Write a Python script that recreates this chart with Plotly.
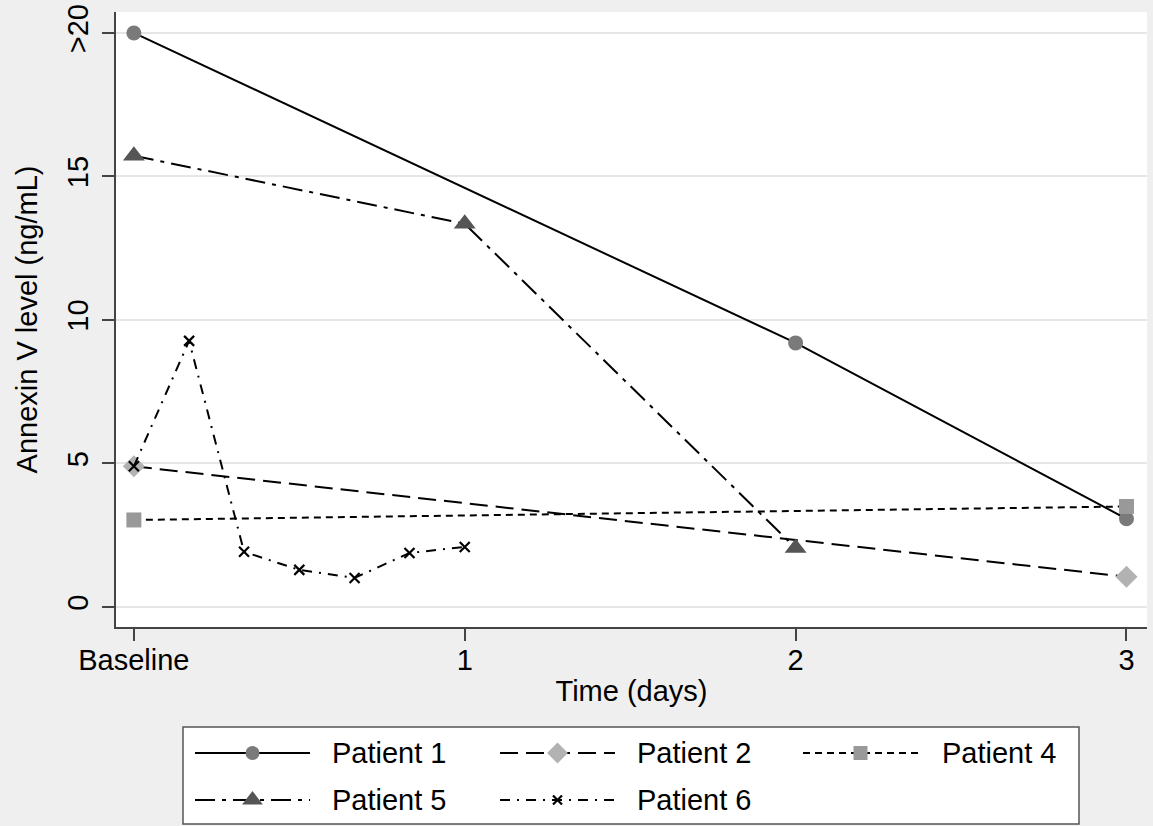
import plotly.graph_objects as go

# ---- data ----
time_p1 = [0, 2, 3]
p1 = [20.0, 9.2, 3.07]
time_p2 = [0, 3]
p2 = [4.9, 1.05]
time_p4 = [0, 3]
p4 = [3.03, 3.5]
time_p5 = [0, 1, 2]
p5 = [15.72, 13.35, 2.05]
time_p6 = [0, 0.167, 0.333, 0.5, 0.667, 0.833, 1.0]
p6 = [4.9, 9.27, 1.92, 1.29, 1.01, 1.88, 2.09]

x_tickvals = [0, 1, 2, 3]
x_ticktext = ["Baseline", "1", "2", "3"]
y_tickvals = [0, 5, 10, 15, 20]
y_ticktext = ["0", "5", "10", "15", ">20"]

series_names = ["Patient 1", "Patient 2", "Patient 4", "Patient 5", "Patient 6"]

W, H = 1153, 826
FONT = "Liberation Sans, Arial, Helvetica, sans-serif"
BG = "#efefef"
FS = 29

styles = {
    "Patient 1": dict(dash="solid", symbol="circle", size=15, color="#7a7a7a", mline=0),
    "Patient 2": dict(dash="18px,8px", symbol="diamond", size=17, color="#b2b2b2", mline=0),
    "Patient 4": dict(dash="7px,5px", symbol="square", size=15, color="#999999", mline=0),
    "Patient 5": dict(dash="20px,7px,4px,7px", symbol="triangle-up", size=19, color="#555555", mline=0),
    "Patient 6": dict(dash="10px,7px,2px,7px", symbol="x-thin", size=10, color="#000000", mline=2.2),
}
data = {
    "Patient 1": (time_p1, p1),
    "Patient 2": (time_p2, p2),
    "Patient 4": (time_p4, p4),
    "Patient 5": (time_p5, p5),
    "Patient 6": (time_p6, p6),
}

# plot area in pixels
PL, PR, PT, PB = 116, 1147, 12, 627

fig = go.Figure()

for name in series_names:
    t, v = data[name]
    s = styles[name]
    fig.add_trace(go.Scatter(
        x=t, y=v, mode="lines+markers", name=name, showlegend=False,
        line=dict(color="black", width=2, dash=s["dash"]),
        marker=dict(symbol=s["symbol"], size=s["size"], color=s["color"],
                    line=dict(width=s["mline"], color="black")),
        xaxis="x", yaxis="y", cliponaxis=False,
    ))

# ---- custom Stata-like legend, drawn on a pixel-coordinate helper axis ----
legend_pos = {
    "Patient 1": (195, 310, 753, 330),
    "Patient 2": (500, 615, 753, 635),
    "Patient 4": (803, 918, 753, 940),
    "Patient 5": (195, 310, 800, 330),
    "Patient 6": (500, 615, 800, 635),
}
annotations = []
for name in series_names:
    x0, x1, yy, tx = legend_pos[name]
    s = styles[name]
    fig.add_trace(go.Scatter(
        x=[x0, x1], y=[yy, yy], mode="lines", showlegend=False,
        line=dict(color="black", width=2, dash=s["dash"]),
        xaxis="x2", yaxis="y2", hoverinfo="skip",
    ))
    fig.add_trace(go.Scatter(
        x=[(x0 + x1) / 2], y=[yy], mode="markers", showlegend=False,
        marker=dict(symbol=s["symbol"], size=s["size"] - 1, color=s["color"],
                    line=dict(width=s["mline"], color="black")),
        xaxis="x2", yaxis="y2", hoverinfo="skip",
    ))
    annotations.append(dict(
        x=tx, y=yy, xref="x2", yref="y2", text=name, showarrow=False,
        xanchor="left", yanchor="middle", font=dict(size=FS, color="black", family=FONT),
    ))

shapes = [
    dict(type="rect", xref="paper", yref="paper",
         x0=PL / W, x1=PR / W, y0=1 - PB / H, y1=1 - PT / H,
         fillcolor="white", line=dict(width=0), layer="below"),
    dict(type="rect", xref="paper", yref="paper",
         x0=183 / W, x1=1079 / W, y0=1 - 824 / H, y1=1 - 727 / H,
         fillcolor="white", line=dict(width=1.5, color="#555555"), layer="below"),
]

fig.update_layout(
    width=W, height=H,
    margin=dict(l=0, r=0, t=0, b=0, autoexpand=False),
    paper_bgcolor=BG, plot_bgcolor="rgba(0,0,0,0)",
    font=dict(family=FONT, size=FS, color="black"),
    showlegend=False,
    shapes=shapes,
    annotations=annotations,
    xaxis=dict(
        domain=[PL / W, PR / W], range=[-0.054, 3.062],
        tickvals=x_tickvals, ticktext=x_ticktext,
        ticks="outside", ticklen=12, tickwidth=1.5, tickcolor="#444444",
        showline=True, linecolor="#444444", linewidth=1.5,
        showgrid=False, zeroline=False, automargin=False,
        tickfont=dict(size=FS), ticklabelstandoff=-6,
        title=dict(text="Time (days)", font=dict(size=FS), standoff=6),
        anchor="y",
    ),
    yaxis=dict(
        domain=[1 - PB / H, 1 - PT / H], range=[-0.70, 20.73],
        tickvals=y_tickvals, ticktext=y_ticktext, tickangle=-90,
        ticks="outside", ticklen=12, tickwidth=1.5, tickcolor="#444444",
        showline=True, linecolor="#444444", linewidth=1.5,
        showgrid=True, gridcolor="#e6e6e6", gridwidth=2, zeroline=False,
        automargin=False,
        tickfont=dict(size=FS), ticklabelstandoff=3,
        title=dict(text="Annexin V level (ng/mL)", font=dict(size=FS), standoff=16),
        anchor="x",
    ),
    xaxis2=dict(domain=[0, 1], range=[0, W], visible=False, showgrid=False,
                zeroline=False, anchor="y2", fixedrange=True, automargin=False),
    yaxis2=dict(domain=[0, 1], range=[H, 0], visible=False, showgrid=False,
                zeroline=False, anchor="x2", fixedrange=True, automargin=False),
)

fig.write_html(
    "out.html",
    config={"displayModeBar": False},
    post_script="document.body.style.margin='0';document.body.style.padding='0';",
)
